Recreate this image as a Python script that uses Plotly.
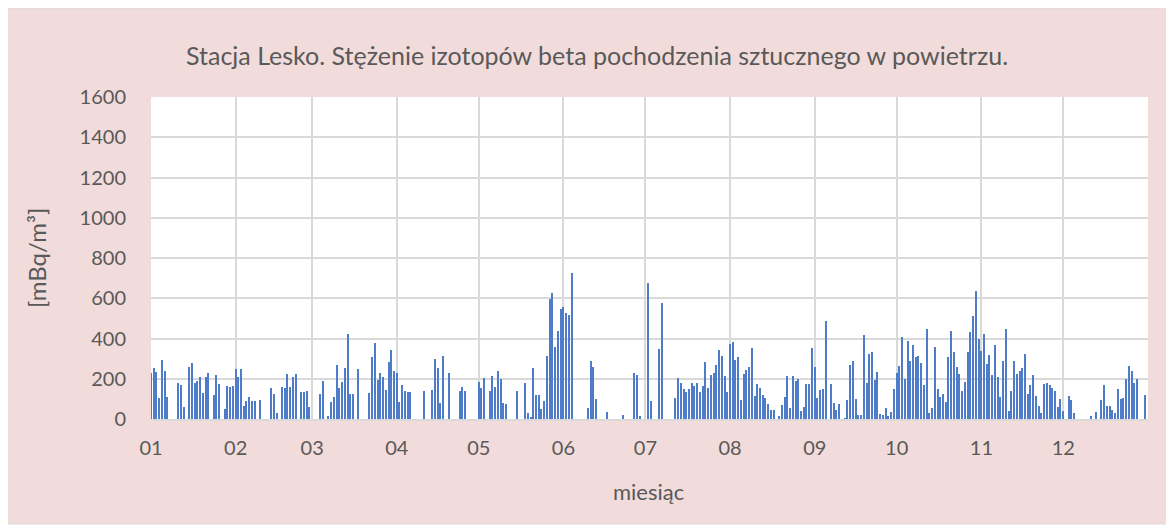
import pandas as pd
import plotly.graph_objects as go

# Daily values [mBq/m3], one list per month (0 = no measurement / no bar)
jan = [230, 251, 236, 104, 293, 240, 107, 0, 0, 0, 178, 167, 61, 0, 260, 279, 177, 188, 208, 129,
       208, 228, 0, 117, 218, 174, 0, 50, 164, 157, 164]
feb = [248, 207, 246, 64, 89, 107, 89, 89, 0, 93, 0, 0, 0, 152, 122, 28, 0, 157, 154, 226,
       157, 208, 222, 0, 134, 134, 139, 58]
mar = [0, 0, 0, 124, 188, 0, 13, 84, 109, 268, 152, 185, 251, 420, 124, 124, 0, 248, 0, 0,
       0, 129, 307, 380, 195, 230, 207, 144, 284, 342, 241]
apr = [230, 84, 167, 137, 136, 132, 0, 0, 0, 0, 137, 0, 0, 144, 298, 253, 79, 311, 0, 230,
       0, 0, 0, 137, 159, 139, 0, 0, 0, 0]
may = [183, 154, 203, 0, 140, 213, 159, 238, 198, 78, 76, 0, 0, 0, 137, 0, 0, 178, 30, 10,
       253, 119, 119, 50, 89, 312, 597, 628, 359, 436, 545]
jun = [555, 526, 516, 724, 0, 0, 0, 0, 0, 55, 288, 256, 99, 0, 0, 0, 35, 0, 0, 0,
       0, 0, 20, 0, 0, 0, 230, 218, 15, 0]
jul = [0, 678, 91, 0, 0, 349, 574, 0, 0, 0, 0, 102, 203, 178, 147, 136, 147, 178, 162, 177,
       132, 164, 281, 152, 218, 231, 268, 341, 312, 213, 132]
aug = [372, 385, 293, 306, 93, 222, 243, 260, 354, 112, 174, 155, 121, 106, 76, 45, 46, 0, 15, 69,
       109, 213, 55, 213, 190, 200, 38, 61, 174, 174, 352]
sep = [258, 104, 144, 147, 486, 0, 172, 79, 45, 73, 0, 3, 94, 268, 286, 98, 21, 18, 417, 177,
       324, 331, 195, 236, 23, 20, 53, 15, 33, 150]
oct_ = [230, 264, 407, 198, 387, 288, 367, 309, 312, 279, 167, 446, 31, 53, 360, 147, 107, 122, 84, 307,
        435, 331, 258, 223, 139, 183, 331, 433, 514, 635, 397]
nov = [336, 420, 273, 317, 220, 369, 207, 111, 288, 448, 38, 139, 289, 225, 240, 251, 322, 126, 167, 217,
       114, 63, 30, 174, 178, 169, 152, 137, 60, 99]
dec = [41, 0, 112, 93, 30, 0, 0, 0, 0, 0, 13, 0, 35, 0, 94, 167, 66, 64, 45, 30,
       147, 99, 102, 198, 263, 238, 178, 200, 0, 0, 119]

values = jan + feb + mar + apr + may + jun + jul + aug + sep + oct_ + nov + dec
dates = pd.date_range("2021-01-01", periods=len(values), freq="D")

month_ticks = ["01", "02", "03", "04", "05", "06", "07", "08", "09", "10", "11", "12"]
tick_dates = list(pd.date_range("2021-01-01", periods=13, freq="MS"))
tick_text = month_ticks + [""]

y_ticks = [0, 200, 400, 600, 800, 1000, 1200, 1400, 1600]

title_text = "Stacja Lesko. Stężenie izotopów beta pochodzenia sztucznego w powietrzu."
x_title = "miesiąc"
y_title = "[mBq/m³]"

FONT = "Lato, 'Noto Sans', sans-serif"
TXT = "#595959"
PINK = "#F2DCDB"
GRID = "#D9D9D9"

# page offset (body margin of the html page)
OFF = 8
W, H = 1174 - OFF, 532 - OFF
# plot area in page pixels
PL, PR, PT, PB = 151, 1148, 97, 419
L, R, T, B = PL - OFF, W - (PR - OFF), PT - OFF, H - (PB - OFF)
pw, ph = PR - PL, PB - PT


def px_x(px):
    return (px - PL) / pw


def px_y(py):
    return (PB - py) / ph


fig = go.Figure()
fig.add_trace(go.Bar(
    x=dates, y=values,
    width=0.45 * 86400000,
    marker=dict(color="#4F7CC9", line=dict(width=0)),
    showlegend=False,
))

fig.update_layout(
    width=W, height=H,
    margin=dict(l=L, r=R, t=T, b=B, pad=0),
    paper_bgcolor="white",
    plot_bgcolor="white",
    font=dict(family=FONT, color=TXT, size=20),
    bargap=0,
    shapes=[
        dict(type="rect", xref="paper", yref="paper", layer="below",
             x0=px_x(OFF - 3), x1=px_x(1167), y0=px_y(524), y1=px_y(OFF),
             fillcolor=PINK, line=dict(color=GRID, width=1)),
        dict(type="rect", xref="paper", yref="paper", layer="below",
             x0=0, x1=1, y0=0, y1=1,
             fillcolor="white", line=dict(width=0)),
    ],
    annotations=[
        dict(text=title_text, xref="paper", yref="paper", x=px_x(597), y=px_y(55),
             xanchor="center", yanchor="middle", showarrow=False,
             font=dict(family=FONT, size=25, color=TXT)),
        dict(text=x_title, xref="paper", yref="paper", x=px_x(648), y=px_y(491),
             xanchor="center", yanchor="middle", showarrow=False,
             font=dict(family=FONT, size=22, color=TXT)),
        dict(text=y_title, xref="paper", yref="paper", x=px_x(36), y=px_y(258),
             xanchor="center", yanchor="middle", showarrow=False, textangle=-90,
             font=dict(family=FONT, size=24, color=TXT)),
    ],
)

fig.update_xaxes(
    type="date",
    range=["2021-01-01", "2022-01-01"],
    tickmode="array", tickvals=tick_dates, ticktext=tick_text,
    showgrid=True, gridcolor=GRID, gridwidth=1.5,
    showline=True, linecolor=GRID, linewidth=1.5,
    ticks="outside", ticklen=10, tickcolor="rgba(0,0,0,0)",
    tickfont=dict(family=FONT, size=20, color=TXT),
    zeroline=False,
)
fig.update_yaxes(
    range=[0, 1600],
    tickmode="array", tickvals=y_ticks,
    showgrid=True, gridcolor=GRID, gridwidth=1.5,
    showline=False,
    ticks="outside", ticklen=20, tickcolor="rgba(0,0,0,0)",
    tickfont=dict(family=FONT, size=20, color=TXT),
    zeroline=False,
)

fig.write_html("out.html")
